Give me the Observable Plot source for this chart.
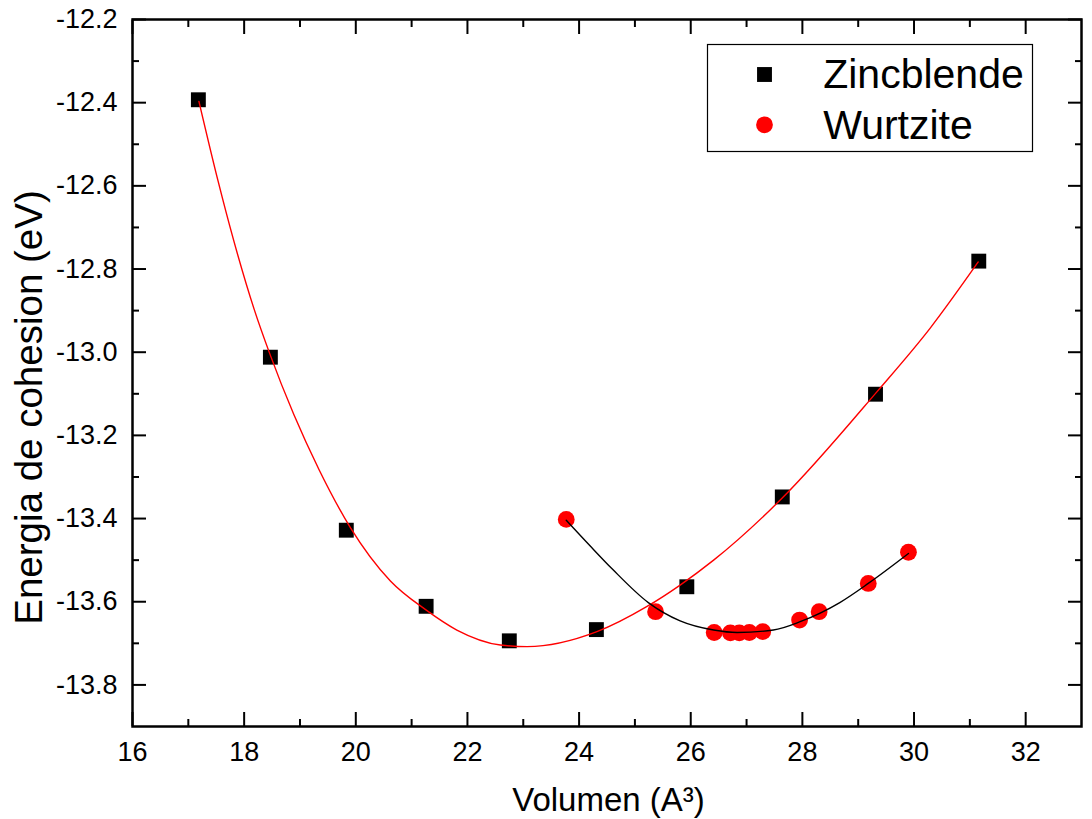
<!DOCTYPE html>
<html>
<head>
<meta charset="utf-8">
<script src="https://cdn.jsdelivr.net/npm/d3@7"></script>
<script src="https://cdn.jsdelivr.net/npm/@observablehq/plot@0.6"></script>
<style>
  body { margin: 0; background: #fff; }
  #chart svg { display: block; }
</style>
</head>
<body>
<div id="chart"></div>
<script>
// Cohesive energy vs. volume for the two polytypes
const seriesNames = ["Zincblende", "Wurtzite"];

// Zincblende: computed points
const zincVol = [17.18, 18.47, 19.83, 21.26, 22.75, 24.31, 25.93, 27.64, 29.31, 31.16];
const zincE   = [-12.393, -13.012, -13.428, -13.611, -13.694, -13.667, -13.564, -13.348, -13.101, -12.781];

// Wurtzite: computed points
const wurtVol = [23.77, 25.37, 26.42, 26.71, 26.87, 27.05, 27.29, 27.95, 28.30, 29.18, 29.90];
const wurtE   = [-13.402, -13.624, -13.674, -13.675, -13.675, -13.674, -13.672, -13.644, -13.624, -13.556, -13.481];

// Fitted equation-of-state curves (sampled)
const zincFitVol = [17.19, 17.53, 17.81, 18.18, 18.46, 18.89, 19.34, 19.90, 20.62, 21.25, 21.81, 22.59, 23.07, 24.32, 25.21, 25.81, 26.41, 27.63, 29.33, 30.29, 31.15];
const zincFitE   = [-12.397, -12.587, -12.730, -12.897, -13.004, -13.150, -13.282, -13.421, -13.550, -13.619, -13.668, -13.704, -13.708, -13.672, -13.612, -13.560, -13.500, -13.352, -13.096, -12.942, -12.783];
const wurtFitVol = [23.77, 24.20, 24.60, 25.24, 25.81, 26.41, 26.83, 27.48, 27.96, 28.67, 29.18, 29.90];
const wurtFitE   = [-13.404, -13.466, -13.522, -13.602, -13.646, -13.668, -13.674, -13.668, -13.648, -13.602, -13.556, -13.484];

// Axes
const xTicks = [16, 18, 20, 22, 24, 26, 28, 30, 32];
const xMinorTicks = [17, 19, 21, 23, 25, 27, 29, 31];
const yTicks = [-13.8, -13.6, -13.4, -13.2, -13.0, -12.8, -12.6, -12.4, -12.2];
const yMinorTicks = [-13.7, -13.5, -13.3, -13.1, -12.9, -12.7, -12.5, -12.3];
const xTitle = "Volumen (A³)";
const yTitle = "Energia de cohesion (eV)";

const zinc = zincVol.map((v, i) => ({v, e: zincE[i]}));
const wurt = wurtVol.map((v, i) => ({v, e: wurtE[i]}));
const zincFit = zincFitVol.map((v, i) => ({v, e: zincFitE[i]}));
const wurtFit = wurtFitVol.map((v, i) => ({v, e: wurtFitE[i]}));

const font = "'Liberation Sans', Arial, sans-serif";
const blank = () => "";

// inward ticks on all four sides
const tickMarks = [];
for (const anchor of ["bottom", "top"]) {
  tickMarks.push(Plot.axisX(xTicks, {anchor, tickSize: -14, strokeWidth: 2, tickFormat: blank, label: null}));
  tickMarks.push(Plot.axisX(xMinorTicks, {anchor, tickSize: -7, strokeWidth: 2, tickFormat: blank, label: null}));
}
for (const anchor of ["left", "right"]) {
  tickMarks.push(Plot.axisY(yTicks, {anchor, tickSize: -14, strokeWidth: 2, tickFormat: blank, label: null}));
  tickMarks.push(Plot.axisY(yMinorTicks, {anchor, tickSize: -7, strokeWidth: 2, tickFormat: blank, label: null}));
}

const chart = Plot.plot({
  width: 1092,
  height: 819,
  marginLeft: 132,
  marginRight: 11,
  marginTop: 19,
  marginBottom: 93,
  style: {fontFamily: font, background: "white", color: "black"},
  x: {domain: [16, 33], label: null},
  y: {domain: [-13.9, -12.2], label: null},
  marks: [
    ...tickMarks,
    Plot.axisX(xTicks, {anchor: "bottom", tickSize: 0, tickPadding: 15, fontSize: 27, tickFormat: d => String(d), label: null}),
    Plot.axisY(yTicks, {anchor: "left", tickSize: 0, tickPadding: 15, fontSize: 27, tickFormat: d => d.toFixed(1), label: null}),
    Plot.text([xTitle], {frameAnchor: "bottom", textAnchor: "middle", lineAnchor: "middle", dx: 1.5, dy: 73.5, fontSize: 33, text: d => d}),
    Plot.text([yTitle], {frameAnchor: "left", textAnchor: "middle", lineAnchor: "middle", rotate: -90, dx: -103, dy: 34.5, fontSize: 38.5, text: d => d}),

    // data points
    Plot.dot(zinc, {x: "v", y: "e", symbol: "square", r: 8.4, fill: "black"}),
    Plot.dot(wurt, {x: "v", y: "e", symbol: "circle", r: 8.4, fill: "#ff0000"}),

    // fitted curves
    Plot.line(zincFit, {x: "v", y: "e", stroke: "#ff0000", strokeWidth: 1.4, curve: "monotone-x"}),
    Plot.line(wurtFit, {x: "v", y: "e", stroke: "black", strokeWidth: 1.4, curve: "monotone-x"}),

    // legend
    Plot.frame({insetLeft: 575, insetRight: 49, insetTop: 25, insetBottom: 575, stroke: "black", strokeWidth: 1.2, fill: "white"}),
    Plot.dot([seriesNames[0]], {frameAnchor: "top-left", dx: 632, dy: 55, symbol: "square", r: 8.4, fill: "black"}),
    Plot.dot([seriesNames[1]], {frameAnchor: "top-left", dx: 632, dy: 105.3, symbol: "circle", r: 8.4, fill: "#ff0000"}),
    Plot.text([seriesNames[0]], {frameAnchor: "top-left", textAnchor: "start", lineAnchor: "middle", dx: 690.7, dy: 55.8, fontSize: 41, text: d => d}),
    Plot.text([seriesNames[1]], {frameAnchor: "top-left", textAnchor: "start", lineAnchor: "middle", dx: 690.7, dy: 106.2, fontSize: 41, text: d => d}),

    Plot.frame({stroke: "black", strokeWidth: 2.5})
  ]
});

document.getElementById("chart").appendChild(chart);
</script>
</body>
</html>
